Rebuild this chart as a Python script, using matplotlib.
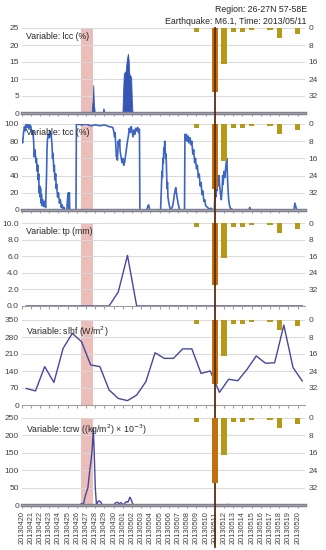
import numpy as np
import matplotlib
matplotlib.use("Agg")
import matplotlib.pyplot as plt
import matplotlib.transforms as mtransforms

plt.rcParams['font.family'] = ['Liberation Sans', 'DejaVu Sans']

# dates on the x axis (one per day, 20130420 .. 20130520)
dates = ['201304%02d' % d for d in range(20, 31)] + ['201305%02d' % d for d in range(1, 21)]

# earthquake-related bars on the right (inverted) axis, day index -> value
bar_days = [19, 21, 22, 23, 24, 25, 27, 28, 30]
bar_vals = [1.9, 30, 17, 2, 2, 0.8, 0.8, 4.6, 2.7]
quake_day = 21
anomaly_day = 7

# lcc (%) - low cloud cover, day offset / value
lcc_t = [0, 7.6, 7.72, 7.78, 7.84, 7.95, 8.8, 8.88, 8.95, 9.02,
         10.95, 11.02, 11.1, 11.2, 11.3, 11.4, 11.48, 11.55, 11.62,
         11.7, 11.8, 11.9, 11.98, 12.05, 30.8]
lcc_v = [0, 0, 4, 8.2, 3, 0, 0, 1.4, 0.8, 0,
         0, 6, 11.5, 12, 12.3, 15, 16.5, 17.4, 15.8,
         11.5, 11, 10.5, 3, 0, 0]

# tcc (%) - total cloud cover
tcc_t = [0.0, 0.1, 0.2, 0.3, 0.4, 0.5, 0.6, 0.7, 0.8, 0.9, 1.0, 1.1, 1.2, 1.3,
         1.35, 1.45, 1.55, 1.6, 1.7, 1.75, 1.8, 1.85, 1.9, 1.95, 2.0, 2.05, 2.1,
         2.15, 2.2, 2.3, 2.4, 2.5, 2.6,
         2.7, 2.75, 2.8, 2.9, 3.0, 3.05, 3.1, 3.2, 3.3,
         3.35, 3.4, 3.5, 3.55, 3.6, 3.7, 3.75, 3.8, 3.9, 4.0, 4.1, 4.2, 4.3, 4.4,
         4.5, 4.6, 4.7, 4.9, 5.0, 5.07, 5.12, 5.18, 5.22, 5.9,
         5.95, 6.5, 7.0, 7.5, 8.0, 8.5, 9.0, 9.5, 9.9,
         10.0, 10.1, 10.15, 10.25, 10.3, 10.35, 10.4, 10.5, 10.55, 10.65, 10.7,
         10.8, 10.9, 11.0, 11.1, 11.2, 11.3, 11.4, 11.5, 11.6, 11.7, 11.8, 11.9,
         12.0, 12.1, 12.2, 12.3, 12.4, 12.5, 12.6, 12.7, 12.8, 12.85,
         13.6, 13.7, 13.8, 13.9, 14.0, 15.1,
         15.2, 15.25, 15.3, 15.35, 15.4, 15.45, 15.5, 15.55, 15.6, 15.65, 15.7,
         15.75, 15.8, 15.85, 15.9, 16.0, 16.1, 16.2,
         16.4, 16.5, 16.6, 16.7, 16.75, 16.8, 16.9, 17.0, 17.1, 17.2, 17.7,
         17.75, 17.8, 17.9, 18.0, 18.1, 18.2, 18.3, 18.4, 18.5, 18.6, 18.7, 18.8,
         18.9, 19.0, 19.1, 19.2, 19.3, 19.4, 19.5, 19.6, 19.7, 19.8, 19.9, 20.0,
         20.2, 20.4, 20.6, 20.8, 20.95,
         21.0, 21.05, 21.1, 21.15, 21.2, 21.3, 21.35, 21.45, 21.5, 21.6, 21.7,
         21.8, 21.85, 21.9, 22.0, 22.1, 22.2, 22.3, 22.35, 22.4, 22.5, 22.6,
         22.7, 23.0, 24.7, 24.8, 24.9, 29.6, 29.7, 29.8, 29.9, 30.8]
tcc_v = [82, 78, 90, 97, 92, 100, 96, 100, 94, 99, 97, 88, 92, 80,
         62, 70, 55, 60, 45, 52, 35, 42, 20, 28, 15, 25, 8,
         18, 5, 12, 4, 10, 3,
         40, 70, 82, 88, 84, 92, 86, 88, 75,
         60, 66, 45, 52, 35, 42, 25, 30, 15, 20, 8, 12, 3, 6,
         1, 3, 0, 0, 15, 20, 2, 20, 0, 0,
         100, 99, 100, 98, 99, 98, 99, 97, 96,
         92, 85, 90, 70, 62, 65, 58, 80, 75, 82, 68,
         62, 55, 60, 52, 56, 64, 72, 80, 86, 95, 90, 97,
         92, 85, 93, 88, 95, 92, 96, 90, 94, 0,
         0, 4, 6, 1, 0, 0,
         30, 45, 38, 60, 55, 72, 66, 80, 70, 60, 65,
         45, 25, 32, 15, 8, 3, 0,
         4, 10, 18, 24, 26, 22, 14, 8, 3, 0, 0,
         88, 82, 88, 80, 86, 78, 84, 76, 80, 65, 70, 55,
         60, 48, 52, 38, 42, 28, 32, 18, 22, 10, 12, 5,
         3, 1, 2, 0, 0,
         18, 25, 15, 35, 22, 38, 28, 40, 30, 20, 12,
         25, 40, 30, 45, 38, 52, 60, 45, 30, 12, 5,
         2, 0, 0, 3, 0, 0, 8, 4, 0, 0]

# tp (mm) - total precipitation, daily
tp_v = [0, 0, 0, 0, 0, 0, 0, 0, 0, 0, 1.7, 6.1, 0, 0, 0, 0, 0, 0, 0, 0,
        0, 0, 0, 0, 0, 0, 0, 0, 0, 0, 0]

# slhf (W/m2) - surface latent heat flux, daily
slhf_v = [68, 58, 158, 93, 233, 295, 261, 165, 158, 62, 27, 18, 41, 96, 215,
          192, 192, 231, 231, 130, 140, 52, 106, 100, 147, 202, 172, 174, 329,
          154, 99]

# tcrw ((kg/m2) x 1e-3) - total column rain water
tcrw_t = [0, 6.4, 6.5, 6.6, 6.7, 6.9, 7.2, 7.4, 7.55, 7.68, 7.78, 7.86, 8.0,
          8.13, 8.3, 8.4, 8.6, 8.75, 10.0, 10.2, 10.4, 10.6, 10.8, 11.0, 11.2,
          11.4, 11.55, 11.7, 11.77, 11.9, 12.13, 22.3, 22.4, 22.5, 30.8]
tcrw_v = [0, 0, 5, 3, 0, 25, 50, 100, 130, 165, 220, 170, 50,
          0, 10, 12, 8, 0, 0, 6, 8, 4, 7, 0, 5,
          10, 8, 18, 22, 15, 0, 0, 2, 0, 0]

yticks_list = [[0, 5, 10, 15, 20, 25], [0, 20, 40, 60, 80, 100],
               [0, 2, 4, 6, 8, 10], [0, 70, 140, 210, 280, 350],
               [0, 50, 100, 150, 200, 250]]
var_labels = ['Variable: lcc (%)', 'Variable: tcc (%)', 'Variable: tp (mm)',
              'Variable: slhf (W/m$^2$)',
              'Variable: tcrw ((kg/m$^2$) \u00d7 10$^{-3}$)']

W, H = 326, 550
fig = plt.figure(figsize=(W / 100, H / 100), dpi=100)

# panel extents in pixels (top, bottom)
panels = [(28, 113), (124, 210), (223, 306), (320, 405), (418, 505)]
left_px, right_px = 21.7, 305

line_col = '#46479c'
grid_col = '#d9d9d9'
text_col = '#404040'
days = np.arange(len(dates))
daily_x = days + 0.5

axes = []
for i, (top, bot) in enumerate(panels):
    ax = fig.add_axes([left_px / W, 1 - bot / H, (right_px - left_px) / W, (bot - top) / H])
    axes.append(ax)
    yt = yticks_list[i]
    ax.set_ylim(yt[0], yt[-1])
    ax.set_yticks(yt)
    if i == 2:
        ax.set_yticklabels(['%.1f' % v for v in yt])
    ax.set_xlim(0, 30.8)
    ax.grid(axis='y', color=grid_col, lw=0.7)
    ax.set_axisbelow(True)
    for s in ['top', 'right', 'left']:
        ax.spines[s].set_visible(False)
    ax.spines['bottom'].set_color('#a0a0a0')
    ax.spines['bottom'].set_linewidth(0.8)
    ax.tick_params(axis='y', length=0, labelsize=6, colors=text_col, pad=2)
    ax.set_xticks(days)
    ax.tick_params(axis='x', length=2.5, color='#a0a0a0', direction='out')
    if i < 4:
        ax.set_xticklabels([])
    else:
        ax.set_xticklabels(dates, rotation=90, fontsize=5.3, color=text_col)
        ax.tick_params(axis='x', pad=2)

    # anomaly band around 20130427
    ax.axvspan(anomaly_day - 0.5, anomaly_day + 0.8, color='#e9b7b2', alpha=0.9, lw=0, zorder=0.5)

    ax.text(0.015, 0.95, var_labels[i], transform=ax.transAxes, fontsize=6.3,
            color='#262626', va='top', ha='left', zorder=6)

    # right axis with earthquake bars hanging from the top
    ax2 = ax.twinx()
    ax2.set_ylim(40, 0)
    ax2.set_yticks([0, 8, 16, 24, 32])
    ax2.tick_params(axis='y', length=0, labelsize=6, colors=text_col, pad=2.5)
    for s in ax2.spines.values():
        s.set_visible(False)
    cols = ['#c2700f' if d == quake_day else '#b49a17' for d in bar_days]
    ax2.bar(bar_days, bar_vals, width=0.58, color=cols, zorder=3)
    ax2.set_xlim(0, 30.8)

# data series
axes[0].fill_between(lcc_t, lcc_v, 0, color='#3556b5', lw=0.6, edgecolor='#3556b5', zorder=2)
axes[1].plot(tcc_t, tcc_v, color='#3d66c0', lw=1.2, zorder=2)
axes[2].plot(daily_x, tp_v, color=line_col, lw=1.0, zorder=2)
axes[3].plot(daily_x, slhf_v, color=line_col, lw=1.0, zorder=2)
axes[4].plot(tcrw_t, tcrw_v, color=line_col, lw=1.0, zorder=2)

# thick grey baseline for the hourly panels
for k in [0, 1, 4]:
    axes[k].axhline(0, color='#808096', lw=2.5, zorder=2.5, clip_on=False)

# earthquake day line across all panels
trans = mtransforms.blended_transform_factory(axes[4].transData, fig.transFigure)
axes[4].plot([quake_day, quake_day], [1 - 547 / H, 1 - 28 / H], color='#5e2c0c',
             lw=1.3, transform=trans, clip_on=False, zorder=10)

fig.text(right_px / W + 0.005, 1 - 10 / H, 'Region: 26-27N 57-58E', ha='right', va='center',
         fontsize=6.3, color='#262626')
fig.text(right_px / W + 0.005, 1 - 21 / H, 'Earthquake: M6.1, Time: 2013/05/11', ha='right',
         va='center', fontsize=6.3, color='#262626')

fig.savefig('out.png', dpi=100)
